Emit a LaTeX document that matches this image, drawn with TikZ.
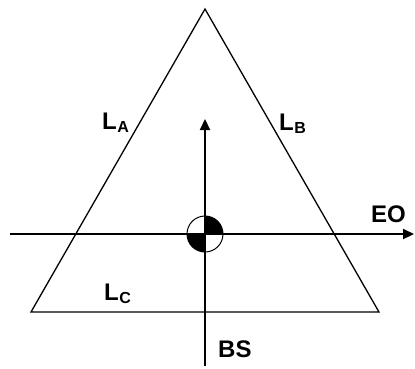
\documentclass[tikz,border=0pt]{standalone}
\usepackage{fontspec}
\setmainfont{Liberation Sans}
\usetikzlibrary{arrows.meta}
\newcommand{\sublab}[2]{#1\kern0.5pt\raisebox{-3pt}{\fontsize{16}{16}\selectfont #2}}
\begin{document}
\begin{tikzpicture}[x=1pt,y=-1pt,
  lab/.style={anchor=base west,inner sep=0pt,font=\fontsize{24}{24}\selectfont\bfseries},
  tri/.style={line width=1.3pt,line join=miter},
  axis/.style={line width=2.2pt,-{Triangle[length=11pt,width=10pt]}}]
\useasboundingbox (0,0) rectangle (415,368);
\coordinate (apex) at (205,9);
\coordinate (bl) at (31,312);
\coordinate (br) at (379,312);
\draw[tri] (apex) -- (bl) -- (br) -- cycle;
\coordinate (w) at (10,234);
\coordinate (e) at (414,234);
\coordinate (s) at (205,366);
\coordinate (n) at (205,119);
\coordinate (c) at (205,234);
\draw[axis] (w) -- (e);
\draw[axis] (s) -- (n);
\fill[white] (c) circle (18);
\fill[black] (c) -- ++(180:18) arc (180:90:18) -- cycle;
\fill[black] (c) -- ++(0:18) arc (0:-90:18) -- cycle;
\draw[line width=1pt] (c) circle (18);
\draw[line width=2.2pt] (c) ++(-18,0) -- ++(36,0);
\draw[line width=2.2pt] (c) ++(0,-18) -- ++(0,36);
\node[lab] (la) at (102,129) {\sublab{L}{A}};
\node[lab] (lb) at (279,130) {\sublab{L}{B}};
\node[lab] (lc) at (104,300) {\sublab{L}{C}};
\node[lab] (eo) at (371,222) {EO};
\node[lab] (bs) at (218,357) {BS};
\end{tikzpicture}
\end{document}
